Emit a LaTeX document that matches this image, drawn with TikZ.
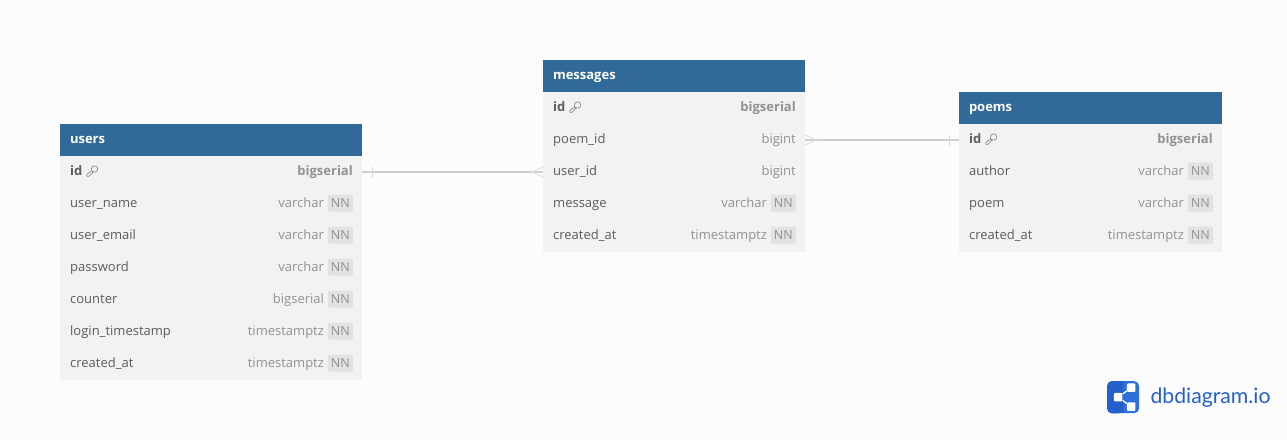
\documentclass[tikz,border=0pt]{standalone}
\usepackage{fontspec}
\setmainfont{Open Sans}
\newfontfamily\logofont{Lato}
\usetikzlibrary{positioning,calc}
\definecolor{pagebg}{HTML}{FCFCFC}
\definecolor{headblue}{HTML}{316A98}
\definecolor{rowgrey}{HTML}{F2F2F2}
\definecolor{fieldgrey}{HTML}{5C5C5C}
\definecolor{typegrey}{HTML}{929292}
\definecolor{taggrey}{HTML}{E2E2E2}
\definecolor{relgrey}{HTML}{CFCFCF}
\definecolor{logoblue}{HTML}{2F6FDC}
\definecolor{logodark}{HTML}{2460CC}
\tikzset{
    tablehead/.style={
        rectangle,
        fill=headblue,
        text=white,
        font=\fontsize{13}{15}\selectfont\bfseries,
        minimum height=32pt,
        inner xsep=10pt,
        inner ysep=0pt,
        outer sep=0pt,
        anchor=north west,
        text height=9.5pt,
        text depth=2.5pt,
    },
    rowbox/.style={
        rectangle,
        fill=rowgrey,
        minimum height=32pt,
        inner sep=0pt,
        outer sep=0pt,
    },
    fieldname/.style={
        text=fieldgrey,
        font=\fontsize{13}{15}\selectfont,
        inner sep=0pt,
        anchor=west,
        text height=9.5pt,
        text depth=2.5pt,
    },
    typename/.style={
        fieldname,
        text=typegrey,
        anchor=east,
    },
    nntag/.style={
        rectangle,
        fill=taggrey,
        text=typegrey,
        rounded corners=1pt,
        font=\fontsize{12.5}{15}\selectfont,
        minimum width=25pt,
        minimum height=17pt,
        inner sep=0pt,
        anchor=east,
    },
    relation/.style={
        draw=relgrey,
        line width=1.6pt,
    },
    relmark/.style={
        draw=relgrey!80,
        line width=0.7pt,
    },
}
% #1 row above, #2 this row, #3 field, #4 type
\newcommand{\nnrow}[4]{
    \node[rowbox,below=0pt of #1,minimum width=\tw](#2){};
    \node[fieldname] (#2f) at ([xshift=10pt]#2.west){#3};
    \node[nntag] (#2n) at ([xshift=-9pt,yshift=1pt]#2.east){NN};
    \node[typename] (#2t) at ([xshift=-3.5pt,yshift=-1pt]#2n.west){#4};
}
\newcommand{\plainrow}[4]{
    \node[rowbox,below=0pt of #1,minimum width=\tw](#2){};
    \node[fieldname] (#2f) at ([xshift=10pt]#2.west){#3};
    \node[typename] (#2t) at ([xshift=-9pt]#2.east){#4};
}
\newcommand{\idrow}[3]{
    \node[rowbox,below=0pt of #1,minimum width=\tw](#2){};
    \node[fieldname,font=\fontsize{13}{15}\selectfont\bfseries] (#2f) at ([xshift=10pt]#2.west){id};
    \node[typename,font=\fontsize{13}{15}\selectfont\bfseries] (#2t) at ([xshift=-9pt]#2.east){#3};
    \draw[fieldgrey!80,line width=0.6pt,line join=round] ([xshift=12pt,yshift=3pt]#2f.east) circle (3.2pt)
        ([xshift=9.4pt,yshift=1.2pt]#2f.east) -- ([xshift=4.3pt,yshift=-2.2pt]#2f.east) -- ([xshift=4.3pt,yshift=-4.2pt]#2f.east) -- ([xshift=6.5pt,yshift=-4.2pt]#2f.east) -- ([xshift=10.6pt,yshift=0.1pt]#2f.east);
}
\begin{document}
\begin{tikzpicture}[x=1pt,y=-1pt]
    \fill[pagebg] (0,0) rectangle (1287,440);
    \useasboundingbox (0,0) rectangle (1287,440);

    % users
    \def\tw{302pt}
    \node[tablehead,text width=282pt] (users) at (60,124) {users};
    \idrow{users}{uid}{bigserial}
    \nnrow{uid}{uname}{user\_name}{varchar}
    \nnrow{uname}{uemail}{user\_email}{varchar}
    \nnrow{uemail}{upass}{password}{varchar}
    \nnrow{upass}{ucount}{counter}{bigserial}
    \nnrow{ucount}{ulogin}{login\_timestamp}{timestamptz}
    \nnrow{ulogin}{ucreated}{created\_at}{timestamptz}

    % messages
    \def\tw{262pt}
    \node[tablehead,text width=242pt] (messages) at (543,60) {messages};
    \idrow{messages}{mid}{bigserial}
    \plainrow{mid}{mpoem}{poem\_id}{bigint}
    \plainrow{mpoem}{muser}{user\_id}{bigint}
    \nnrow{muser}{mmsg}{message}{varchar}
    \nnrow{mmsg}{mcreated}{created\_at}{timestamptz}

    % poems
    \def\tw{263pt}
    \node[tablehead,text width=243pt] (poems) at (959,92) {poems};
    \idrow{poems}{pid}{bigserial}
    \nnrow{pid}{pauthor}{author}{varchar}
    \nnrow{pauthor}{ppoem}{poem}{varchar}
    \nnrow{ppoem}{pcreated}{created\_at}{timestamptz}

    % relations
    \draw[relation] (uid.east) -- (muser.west);
    \draw[relmark] ([xshift=10pt,yshift=-5.5pt]uid.east) -- ([xshift=10pt,yshift=5.5pt]uid.east);
    \draw[relmark] ([yshift=-5pt]muser.west) -- ([xshift=-11pt]muser.west) -- ([yshift=5pt]muser.west);
    \draw[relation] (mpoem.east) -- (pid.west);
    \draw[relmark] ([yshift=-5pt]mpoem.east) -- ([xshift=11pt]mpoem.east) -- ([yshift=5pt]mpoem.east);
    \draw[relmark] ([xshift=-10pt,yshift=-5.5pt]pid.west) -- ([xshift=-10pt,yshift=5.5pt]pid.west);

    % logo
    \node[rectangle,fill=logoblue,rounded corners=5pt,minimum size=32pt,inner sep=0pt,anchor=north west](logo) at (1107,381){};
    \fill[logodark,rounded corners=5pt] (logo.north west) -- (logo.north) -- (logo.south) -- (logo.south west) -- cycle;
    \fill[logodark] ([xshift=-6pt]logo.north) rectangle (logo.south);
    \node[fill=white,rounded corners=1pt,minimum size=8.5pt,inner sep=0pt](lgleft) at ([xshift=-5pt]logo.center){};
    \node[fill=white,rounded corners=1pt,minimum size=8.5pt,inner sep=0pt](lgtop) at ([xshift=8pt,yshift=9.5pt]logo.center){};
    \node[fill=white,rounded corners=1pt,minimum size=8.5pt,inner sep=0pt](lgbot) at ([xshift=8pt,yshift=-9.5pt]logo.center){};
    \draw[white,line width=1.3pt] (lgtop) -- (lgleft) -- (lgbot);
    \node[right=11pt of logo,inner sep=0pt,text=logodark,font=\logofont\fontsize{21.2}{24}\selectfont](logotext){dbdiagram.io};
\end{tikzpicture}
\end{document}
